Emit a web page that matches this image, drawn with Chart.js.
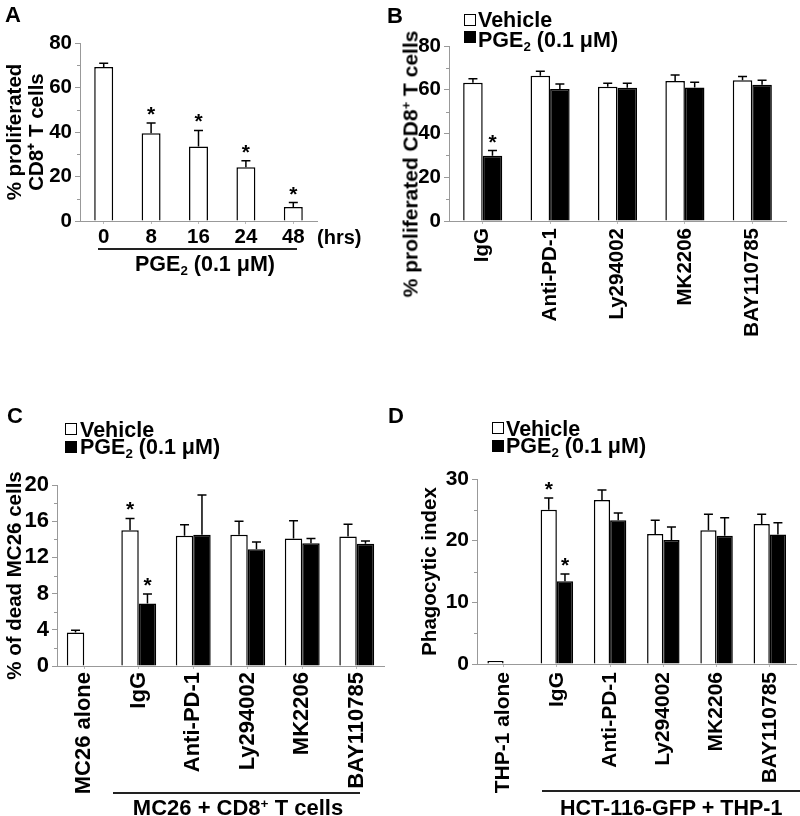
<!DOCTYPE html>
<html>
<head>
<meta charset="utf-8">
<script src="https://cdn.jsdelivr.net/npm/chart.js@4.4.0/dist/chart.umd.min.js"></script>
<style>
body { margin: 0; background: #fff; }
#page { position: relative; width: 800px; height: 816px; overflow: hidden; font-family: 'Liberation Sans', Arial, sans-serif; font-weight: bold; color: #000; }
.wrap { position: absolute; }
.t { position: absolute; white-space: nowrap; line-height: 1; }
.letter { font-size: 22px; }
.lg { font-size: 21.5px; }
.box { position: absolute; width: 10px; height: 10px; border: 1px solid #000; background: #fff; }
.box.fill { background: #000; }
.rule { position: absolute; height: 1.5px; background: #222; }
sub { font-size: 0.62em; vertical-align: -0.28em; line-height: 0; }
sup { font-size: 0.62em; vertical-align: 0.55em; line-height: 0; }
</style>
</head>
<body>
<div id="page">
  <div class="wrap" style="left:0;top:0;width:400px;height:400px"><canvas id="chartA"></canvas></div>
  <div class="wrap" style="left:400px;top:0;width:400px;height:400px"><canvas id="chartB"></canvas></div>
  <div class="wrap" style="left:0;top:400px;width:400px;height:416px"><canvas id="chartC"></canvas></div>
  <div class="wrap" style="left:400px;top:400px;width:400px;height:416px"><canvas id="chartD"></canvas></div>

  <div class="t letter" style="left:5px;top:4px">A</div>
  <div class="t letter" style="left:387px;top:5px">B</div>
  <div class="t letter" style="left:7px;top:405px">C</div>
  <div class="t letter" style="left:388px;top:405px">D</div>

  <!-- panel A annotations -->
  <div class="t" style="left:317px;top:227px;font-size:20px">(hrs)</div>
  <div class="rule" style="left:98px;top:248px;width:199px"></div>
  <div class="t lg" style="left:105px;width:200px;text-align:center;top:254px">PGE<sub>2</sub> (0.1 μM)</div>

  <!-- panel B legend + y title -->
  <div class="box" style="left:464px;top:14px"></div>
  <div class="t lg" style="left:478px;top:10px">Vehicle</div>
  <div class="box fill" style="left:464px;top:31px"></div>
  <div class="t lg" style="left:478px;top:30px">PGE<sub>2</sub> (0.1 μM)</div>
  <div class="t" style="left:410px;top:164px;font-size:21px;transform:translate(-50%,-50%) rotate(-90deg)">% proliferated CD8<sup>+</sup> T cells</div>

  <!-- panel C legend + group label -->
  <div class="box" style="left:65px;top:423px"></div>
  <div class="t lg" style="left:80px;top:420px">Vehicle</div>
  <div class="box fill" style="left:65px;top:441px"></div>
  <div class="t lg" style="left:80px;top:437px">PGE<sub>2</sub> (0.1 μM)</div>
  <div class="rule" style="left:113px;top:792px;width:247px"></div>
  <div class="t" style="left:113px;width:250px;text-align:center;top:797px;font-size:22px">MC26 + CD8<sup>+</sup> T cells</div>

  <!-- panel D legend + group label -->
  <div class="box" style="left:492px;top:422px"></div>
  <div class="t lg" style="left:506px;top:419px">Vehicle</div>
  <div class="box fill" style="left:492px;top:440px"></div>
  <div class="t lg" style="left:506px;top:436px">PGE<sub>2</sub> (0.1 μM)</div>
  <div class="rule" style="left:542px;top:790px;width:258px"></div>
  <div class="t lg" style="left:560px;width:220px;text-align:center;top:798px">HCT-116-GFP + THP-1</div>
</div>

<script>
// A: proliferation over time
const hoursA = ['0', '8', '16', '24', '48'];
const prolifA = [69.2, 39.4, 33.5, 24.2, 6.3];
const prolifErrA = [1.7, 4.7, 7.2, 2.9, 2.0];
const prolifStarA = [false, true, true, true, true];

// B: proliferation with inhibitors
const treatB = ['IgG', 'Anti-PD-1', 'Ly294002', 'MK2206', 'BAY110785'];
const vehicleB = [63.2, 66.4, 61.4, 64.0, 64.4];
const vehicleErrB = [1.8, 2.1, 1.6, 2.7, 1.7];
const pgeB = [29.8, 60.3, 60.9, 61.0, 62.3];
const pgeErrB = [2.4, 2.3, 2.1, 2.4, 2.0];
const pgeStarB = [true, false, false, false, false];

// C: dead MC26 cells
const groupsC = ['MC26 alone', 'IgG', 'Anti-PD-1', 'Ly294002', 'MK2206', 'BAY110785'];
const vehicleC = [3.7, 15.0, 14.4, 14.5, 14.1, 14.3];
const vehicleErrC = [0.25, 1.3, 1.2, 1.5, 1.95, 1.35];
const vehicleStarC = [false, true, false, false, false, false];
const pgeC = [null, 6.9, 14.5, 12.9, 13.55, 13.5];
const pgeErrC = [0, 1.05, 4.4, 0.8, 0.55, 0.3];
const pgeStarC = [false, true, false, false, false, false];

// D: phagocytic index
const groupsD = ['THP-1 alone', 'IgG', 'Anti-PD-1', 'Ly294002', 'MK2206', 'BAY110785'];
const vehicleD = [0.5, 25.0, 26.6, 21.1, 21.7, 22.7];
const vehicleErrD = [0, 1.9, 1.6, 2.2, 2.6, 1.6];
const vehicleStarD = [false, true, false, false, false, false];
const pgeD = [null, 13.4, 23.3, 20.1, 20.8, 21.0];
const pgeErrD = [0, 1.2, 1.2, 2.1, 2.9, 1.9];
const pgeStarD = [false, true, false, false, false, false];

const FONT = "'Liberation Sans', Arial, sans-serif";
Chart.defaults.font.family = FONT;
Chart.defaults.font.weight = 'bold';
Chart.defaults.color = '#000';

// upward error bars + significance stars
const errorBars = {
    id: 'errorBars',
    afterDatasetsDraw(chart) {
        const ctx = chart.ctx;
        const y = chart.scales.y;
        chart.data.datasets.forEach((ds, di) => {
            const meta = chart.getDatasetMeta(di);
            meta.data.forEach((bar, i) => {
                const v = ds.data[i];
                if (v == null) return;
                const e = ds.errors[i] || 0;
                const top = y.getPixelForValue(v + e);
                ctx.save();
                ctx.strokeStyle = '#000';
                ctx.lineWidth = 1.5;
                if (e > 0) {
                    ctx.beginPath();
                    ctx.moveTo(bar.x, bar.y);
                    ctx.lineTo(bar.x, top);
                    ctx.moveTo(bar.x - 4.5, top);
                    ctx.lineTo(bar.x + 4.5, top);
                    ctx.stroke();
                }
                if (ds.stars && ds.stars[i]) {
                    ctx.fillStyle = '#000';
                    ctx.font = 'bold 21px ' + FONT;
                    ctx.textAlign = 'center';
                    ctx.textBaseline = 'alphabetic';
                    ctx.fillText('*', bar.x, top - 2);
                }
                ctx.restore();
            });
        });
    }
};

// small in-between ticks on the y axis
const minorTicks = {
    id: 'minorTicks',
    afterDraw(chart, args, opts) {
        const y = chart.scales.y;
        const ctx = chart.ctx;
        ctx.save();
        ctx.strokeStyle = '#999';
        ctx.lineWidth = 1;
        for (let v = opts.step / 2; v < y.max; v += opts.step) {
            const py = Math.round(y.getPixelForValue(v)) + 0.5;
            ctx.beginPath();
            ctx.moveTo(y.right - 3, py);
            ctx.lineTo(y.right, py);
            ctx.stroke();
        }
        ctx.restore();
    }
};

function panel(id, labels, datasets, o) {
    new Chart(document.getElementById(id), {
        type: 'bar',
        data: { labels: labels, datasets: datasets },
        options: {
            responsive: true,
            maintainAspectRatio: false,
            animation: false,
            layout: { padding: { top: o.top, right: o.right, left: 0, bottom: 0 } },
            datasets: { bar: { categoryPercentage: o.cat, barPercentage: 1 } },
            plugins: {
                legend: { display: false },
                tooltip: { enabled: false },
                minorTicks: { step: o.step }
            },
            scales: {
                x: {
                    afterFit: (s) => { s.height = o.xh; },
                    grid: { drawOnChartArea: false, offset: false, tickLength: 3, color: '#bbb' },
                    border: { color: '#999', width: 1 },
                    ticks: {
                        autoSkip: false,
                        minRotation: o.rot,
                        maxRotation: o.rot,
                        padding: o.xpad,
                        color: '#000',
                        font: { size: o.fs, weight: 'bold' }
                    }
                },
                y: {
                    min: 0,
                    max: o.max,
                    afterFit: (s) => { s.width = o.yw; },
                    grid: { drawOnChartArea: false, tickLength: 5, color: '#999' },
                    border: { color: '#999', width: 1 },
                    ticks: { stepSize: o.step, padding: 3, color: '#000', font: { size: o.fs, weight: 'bold' } },
                    title: {
                        display: !!o.title,
                        text: o.title || '',
                        color: '#000',
                        font: { size: 20.5, weight: 'bold', lineHeight: 1.1 },
                        padding: { top: o.tpad, bottom: 0 }
                    }
                }
            }
        },
        plugins: [errorBars, minorTicks]
    });
}

const bar = (data, errors, stars, fill) => ({
    data: data, errors: errors, stars: stars,
    backgroundColor: fill, borderColor: '#000', borderWidth: 1.5
});

panel('chartA', hoursA,
    [bar(prolifA, prolifErrA, prolifStarA, '#fff')],
    { top: 43, right: 83, yw: 80, xh: 179, cat: 0.4, rot: 0, xpad: 1, max: 80, step: 20, fs: 20.5,
      title: ['% proliferated', 'CD8\u207A T cells'], tpad: 4 });

panel('chartB', treatB,
    [bar(vehicleB, vehicleErrB, null, '#fff'), bar(pgeB, pgeErrB, pgeStarB, '#000')],
    { top: 46, right: 14, yw: 49, xh: 179, cat: 0.58, rot: 90, xpad: 4, max: 80, step: 20, fs: 20.5 });

panel('chartC', groupsC,
    [bar(vehicleC, vehicleErrC, vehicleStarC, '#fff'), bar(pgeC, pgeErrC, pgeStarC, '#000')],
    { top: 85, right: 16, yw: 57, xh: 150, cat: 0.64, rot: 90, xpad: 3, max: 20, step: 4, fs: 22,
      title: '% of dead MC26 cells', tpad: 4 });

panel('chartD', groupsD,
    [bar(vehicleD, vehicleErrD, vehicleStarD, '#fff'), bar(pgeD, pgeErrD, pgeStarD, '#000')],
    { top: 79, right: 0, yw: 77, xh: 152, cat: 0.61, rot: 90, xpad: 5, max: 30, step: 10, fs: 21,
      title: 'Phagocytic index', tpad: 19 });
</script>
</body>
</html>
